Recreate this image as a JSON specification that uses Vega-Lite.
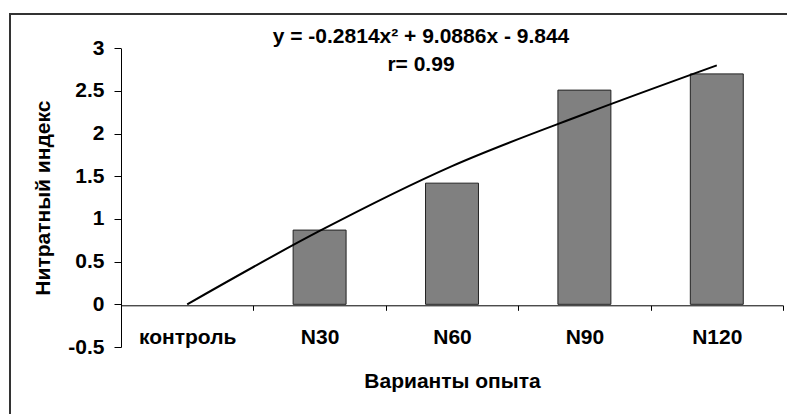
{
  "$schema": "https://vega.github.io/schema/vega-lite/v6.json",
  "width": 780,
  "height": 404,
  "autosize": "none",
  "padding": {"left": 10, "top": 14, "right": 0, "bottom": 0},
  "background": "white",
  "config": {
    "view": {"stroke": "#333333", "strokeWidth": 2, "fill": "white"},
    "font": "Liberation Sans"
  },
  "title": {
    "text": "y = -0.2814x² + 9.0886x - 9.844",
    "subtitle": "r= 0.99",
    "anchor": "middle",
    "frame": "group",
    "dx": 21,
    "offset": -61,
    "font": "Liberation Sans",
    "fontSize": 21,
    "fontWeight": "bold",
    "color": "black",
    "subtitleFont": "Liberation Sans",
    "subtitleFontSize": 21,
    "subtitleFontWeight": "bold",
    "subtitleColor": "black",
    "subtitlePadding": 7
  },
  "data": {
    "values": [
      {"variant": "контроль", "nitrate": null, "trend": 0},
      {"variant": "N30", "nitrate": 0.87, "trend": 0.86},
      {"variant": "N60", "nitrate": 1.42, "trend": 1.62},
      {"variant": "N90", "nitrate": 2.51, "trend": 2.23},
      {"variant": "N120", "nitrate": 2.7, "trend": 2.8}
    ]
  },
  "encoding": {
    "x": {
      "field": "variant",
      "type": "nominal",
      "sort": null,
      "scale": {
        "domain": ["контроль", "N30", "N60", "N90", "N120"],
        "range": [111, 773],
        "paddingInner": 0,
        "paddingOuter": 0
      },
      "axis": {
        "title": "Варианты опыта",
        "offset": -112.7,
        "labelAngle": 0,
        "tickBand": "extent",
        "domainColor": "black",
        "tickColor": "black",
        "tickSize": 5,
        "labelPadding": 16,
        "labelFont": "Liberation Sans",
        "labelFontSize": 21,
        "labelFontWeight": "bold",
        "labelColor": "black",
        "titleFont": "Liberation Sans",
        "titleFontSize": 21,
        "titleFontWeight": "bold",
        "titleColor": "black",
        "titlePadding": 23,
        "grid": false
      }
    }
  },
  "layer": [
    {
      "mark": {"type": "bar", "width": {"band": 0.4}, "fill": "#808080", "stroke": "#222222", "strokeWidth": 1},
      "encoding": {
        "y": {
          "field": "nitrate",
          "type": "quantitative",
          "scale": {"domain": [-0.5, 3], "range": [333, 34.3], "nice": false, "zero": false},
          "axis": {
            "title": "Нитратный индекс",
            "offset": -111,
            "values": [-0.5, 0, 0.5, 1, 1.5, 2, 2.5, 3],
            "labelExpr": "'' + datum.value",
            "grid": false,
            "domainColor": "black",
            "tickColor": "black",
            "tickSize": 7,
            "labelPadding": 10,
            "labelFont": "Liberation Sans",
            "labelFontSize": 21,
            "labelFontWeight": "bold",
            "labelColor": "black",
            "titleFont": "Liberation Sans",
            "titleFontSize": 21,
            "titleFontWeight": "bold",
            "titleColor": "black",
            "titlePadding": 14
          }
        }
      }
    },
    {
      "mark": {"type": "line", "color": "black", "strokeWidth": 2, "interpolate": "monotone"},
      "encoding": {
        "y": {"field": "trend", "type": "quantitative"}
      }
    }
  ]
}
